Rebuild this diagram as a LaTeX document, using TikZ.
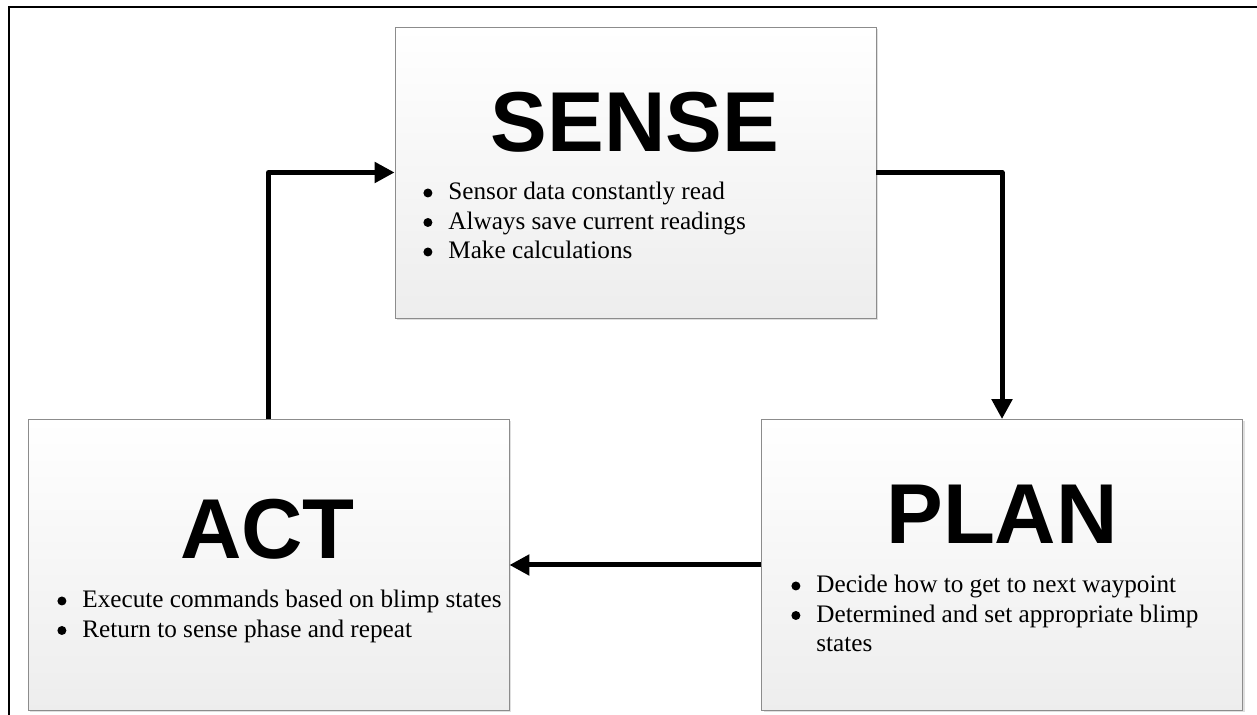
\documentclass[tikz,border=0pt]{standalone}
\usepackage{fontspec}
\setmainfont{Liberation Serif}
\newfontfamily\headfont{Liberation Sans}
\usetikzlibrary{arrows.meta,shadows}

\tikzset{
  box/.style={rectangle,draw=black!45,thin,top color=white,bottom color=black!7,
    minimum width=240.5pt,minimum height=145.5pt,inner sep=0pt,
    drop shadow={shadow xshift=1pt,shadow yshift=-1pt,opacity=0.25}},
  title/.style={font=\headfont\bfseries\fontsize{42.5}{50}\selectfont,inner sep=0pt},
  points/.style={anchor=base west,inner sep=0pt,font=\fontsize{12.6}{14.75}\selectfont},
  flow/.style={line width=2.5pt,line join=round,-{Triangle[length=10pt,width=10pt]}}
}

\newcommand{\dotmark}{\tikz[baseline=0pt] \fill (2.25pt,3.5pt) circle (2.25pt);}
\newcommand{\pointlist}[1]{\begin{tabular}[t]{@{}l@{\hspace{8pt}}l@{}}#1\end{tabular}}

\begin{document}
\begin{tikzpicture}[x=0.5pt,y=0.5pt]
  \useasboundingbox (0,0) rectangle (1257,715);
  \draw[line width=1pt] (9,0) -- (9,707.5) -- (1257,707.5);

  \node (SENSE) at (635.5,542.5) [box] {};
  \node (ACT) at (268.5,150) [box] {};
  \node (PLAN) at (1002,150) [box] {};

  \node (SENSET) at (635,592.5) [title] {SENSE};
  \node (ACTT) at (267.5,186) [title] {ACT};
  \node (PLANT) at (1002,201) [title] {PLAN};

  \node (SENSEP) at (423,515) [points] {\pointlist{
    \dotmark & Sensor data constantly read\\
    \dotmark & Always save current readings\\
    \dotmark & Make calculations}};
  \node (ACTP) at (57,107) [points] {\pointlist{
    \dotmark & Execute commands based on blimp states\\
    \dotmark & Return to sense phase and repeat}};
  \node (PLANP) at (791,122) [points] {\pointlist{
    \dotmark & Decide how to get to next waypoint\\
    \dotmark & Determined and set appropriate blimp\\
             & states}};

  \draw[flow] (ACT) |- (SENSE);
  \draw[flow] (SENSE) -| (PLAN);
  \draw[flow] (PLAN) -- (ACT);
\end{tikzpicture}
\end{document}
